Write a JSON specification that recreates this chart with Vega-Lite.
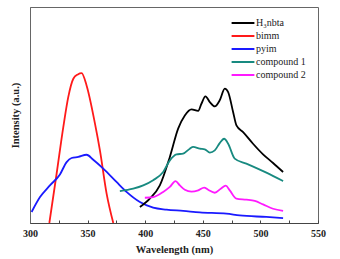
{
  "$schema": "https://vega.github.io/schema/vega-lite/v6.json",
  "width": 288,
  "height": 216,
  "autosize": "none",
  "padding": {"left": 30, "top": 7, "right": 22, "bottom": 36},
  "background": "white",
  "config": {
    "font": "Liberation Serif",
    "view": {"stroke": "#666", "strokeWidth": 1}
  },
  "data": {
    "values": [
      {"s": "bimm", "wl": 316.8, "v": 0},
      {"s": "bimm", "wl": 323.1, "v": 22.8},
      {"s": "bimm", "wl": 328.9, "v": 44.4},
      {"s": "bimm", "wl": 333.2, "v": 58.3},
      {"s": "bimm", "wl": 337.6, "v": 66.8},
      {"s": "bimm", "wl": 341.5, "v": 68.8},
      {"s": "bimm", "wl": 344.8, "v": 69.4},
      {"s": "bimm", "wl": 349.1, "v": 63.7},
      {"s": "bimm", "wl": 356.4, "v": 46},
      {"s": "bimm", "wl": 360.7, "v": 33.6},
      {"s": "bimm", "wl": 366.5, "v": 13.6},
      {"s": "bimm", "wl": 372.3, "v": 0},
      {"s": "pyim", "wl": 301.4, "v": 5.1},
      {"s": "pyim", "wl": 308.7, "v": 12},
      {"s": "pyim", "wl": 317.3, "v": 17.4},
      {"s": "pyim", "wl": 326, "v": 22.5},
      {"s": "pyim", "wl": 331.8, "v": 28.2},
      {"s": "pyim", "wl": 336.1, "v": 30.1},
      {"s": "pyim", "wl": 341.9, "v": 30.6},
      {"s": "pyim", "wl": 349.1, "v": 31.6},
      {"s": "pyim", "wl": 354.9, "v": 29.3},
      {"s": "pyim", "wl": 363.6, "v": 25.2},
      {"s": "pyim", "wl": 375.1, "v": 19},
      {"s": "pyim", "wl": 383.8, "v": 14.4},
      {"s": "pyim", "wl": 395.4, "v": 9.7},
      {"s": "pyim", "wl": 406.9, "v": 7.1},
      {"s": "pyim", "wl": 418.5, "v": 6.2},
      {"s": "pyim", "wl": 433, "v": 5.6},
      {"s": "pyim", "wl": 447.4, "v": 4.9},
      {"s": "pyim", "wl": 470.5, "v": 4.3},
      {"s": "pyim", "wl": 482, "v": 3.5},
      {"s": "pyim", "wl": 505.2, "v": 2.8},
      {"s": "pyim", "wl": 519.7, "v": 2.3},
      {"s": "H₃nbta", "wl": 395.4, "v": 7.4},
      {"s": "H₃nbta", "wl": 404, "v": 11.3},
      {"s": "H₃nbta", "wl": 412.7, "v": 17.4},
      {"s": "H₃nbta", "wl": 421.4, "v": 30.6},
      {"s": "H₃nbta", "wl": 428.6, "v": 43.7},
      {"s": "H₃nbta", "wl": 434.4, "v": 49.8},
      {"s": "H₃nbta", "wl": 440.2, "v": 52.6},
      {"s": "H₃nbta", "wl": 446, "v": 51.9},
      {"s": "H₃nbta", "wl": 448.8, "v": 55.2},
      {"s": "H₃nbta", "wl": 452.3, "v": 58.6},
      {"s": "H₃nbta", "wl": 456.1, "v": 56},
      {"s": "H₃nbta", "wl": 460.4, "v": 54},
      {"s": "H₃nbta", "wl": 464.7, "v": 56.8},
      {"s": "H₃nbta", "wl": 469.1, "v": 62.2},
      {"s": "H₃nbta", "wl": 472, "v": 60.6},
      {"s": "H₃nbta", "wl": 476.3, "v": 51.4},
      {"s": "H₃nbta", "wl": 479.2, "v": 45.2},
      {"s": "H₃nbta", "wl": 485, "v": 42.1},
      {"s": "H₃nbta", "wl": 493.6, "v": 36.7},
      {"s": "H₃nbta", "wl": 502.3, "v": 31.8},
      {"s": "H₃nbta", "wl": 511, "v": 27.8},
      {"s": "H₃nbta", "wl": 519.7, "v": 23.6},
      {"s": "compound 1", "wl": 378, "v": 14.8},
      {"s": "compound 1", "wl": 389.6, "v": 15.9},
      {"s": "compound 1", "wl": 398.3, "v": 17.4},
      {"s": "compound 1", "wl": 406.9, "v": 19.8},
      {"s": "compound 1", "wl": 415.6, "v": 23.6},
      {"s": "compound 1", "wl": 421.4, "v": 29},
      {"s": "compound 1", "wl": 427.2, "v": 31.8},
      {"s": "compound 1", "wl": 432.9, "v": 32.1},
      {"s": "compound 1", "wl": 438.7, "v": 34.4},
      {"s": "compound 1", "wl": 441.6, "v": 35.2},
      {"s": "compound 1", "wl": 447.4, "v": 34.4},
      {"s": "compound 1", "wl": 451.7, "v": 34.1},
      {"s": "compound 1", "wl": 456.1, "v": 32.6},
      {"s": "compound 1", "wl": 460.4, "v": 33.6},
      {"s": "compound 1", "wl": 464.7, "v": 37},
      {"s": "compound 1", "wl": 468.5, "v": 39},
      {"s": "compound 1", "wl": 472, "v": 36.7},
      {"s": "compound 1", "wl": 477.7, "v": 29.8},
      {"s": "compound 1", "wl": 487.8, "v": 27.5},
      {"s": "compound 1", "wl": 505.2, "v": 23.3},
      {"s": "compound 1", "wl": 519.7, "v": 19.4},
      {"s": "compound 2", "wl": 399.7, "v": 11.7},
      {"s": "compound 2", "wl": 406.9, "v": 12},
      {"s": "compound 2", "wl": 415.6, "v": 14.4},
      {"s": "compound 2", "wl": 421.4, "v": 16.7},
      {"s": "compound 2", "wl": 426.3, "v": 19.4},
      {"s": "compound 2", "wl": 430.1, "v": 17.4},
      {"s": "compound 2", "wl": 434.4, "v": 15.4},
      {"s": "compound 2", "wl": 440.2, "v": 14.5},
      {"s": "compound 2", "wl": 446, "v": 15.1},
      {"s": "compound 2", "wl": 451.2, "v": 16.4},
      {"s": "compound 2", "wl": 454.6, "v": 15.4},
      {"s": "compound 2", "wl": 460.4, "v": 14},
      {"s": "compound 2", "wl": 465.6, "v": 15.9},
      {"s": "compound 2", "wl": 469.9, "v": 17.3},
      {"s": "compound 2", "wl": 473.4, "v": 15.1},
      {"s": "compound 2", "wl": 479.2, "v": 11.3},
      {"s": "compound 2", "wl": 487.8, "v": 10.8},
      {"s": "compound 2", "wl": 495.1, "v": 10.2},
      {"s": "compound 2", "wl": 502.3, "v": 8.6},
      {"s": "compound 2", "wl": 511, "v": 6.6},
      {"s": "compound 2", "wl": 519.7, "v": 5.6}
    ]
  },
  "mark": {"type": "line", "interpolate": "monotone", "strokeWidth": 1.8, "clip": true},
  "encoding": {
    "x": {
      "field": "wl", "type": "quantitative",
      "scale": {"domain": [300, 550], "nice": false, "zero": false},
      "axis": {
        "title": "Wavelength (nm)",
        "values": [300, 325, 350, 375, 400, 425, 450, 475, 500, 525, 550],
        "labelExpr": "datum.value % 50 == 0 ? datum.label : ''",
        "labelFlush": false,
        "grid": false,
        "tickSize": -3,
        "tickColor": "#444",
        "domainColor": "#444",
        "labelFont": "Liberation Serif",
        "labelFontWeight": "bold",
        "labelFontSize": 10,
        "labelColor": "#222",
        "labelPadding": 8,
        "titleFont": "Liberation Serif",
        "titleFontWeight": "bold",
        "titleFontSize": 10.5,
        "titleColor": "#222",
        "titlePadding": 6
      }
    },
    "y": {
      "field": "v", "type": "quantitative",
      "scale": {"domain": [0, 100], "nice": false},
      "axis": {
        "title": "Intensity (a.u.)",
        "labels": false,
        "ticks": false,
        "grid": false,
        "domainColor": "#666",
        "titleFont": "Liberation Serif",
        "titleFontWeight": "bold",
        "titleFontSize": 10.5,
        "titleColor": "#222",
        "titlePadding": 10
      }
    },
    "color": {
      "field": "s", "type": "nominal",
      "scale": {
        "domain": ["H₃nbta", "bimm", "pyim", "compound 1", "compound 2"],
        "range": ["#000000", "#ff1a1a", "#1a1aff", "#188a80", "#ff1aff"]
      },
      "legend": {
        "title": null,
        "orient": "none",
        "legendX": 206,
        "legendY": 9,
        "symbolType": "M-2,0H2",
        "symbolStrokeWidth": 2,
        "symbolSize": 130,
        "labelFont": "Liberation Serif",
        "labelFontSize": 10,
        "labelColor": "#222",
        "labelOffset": 6,
        "rowPadding": 1
      }
    }
  }
}
